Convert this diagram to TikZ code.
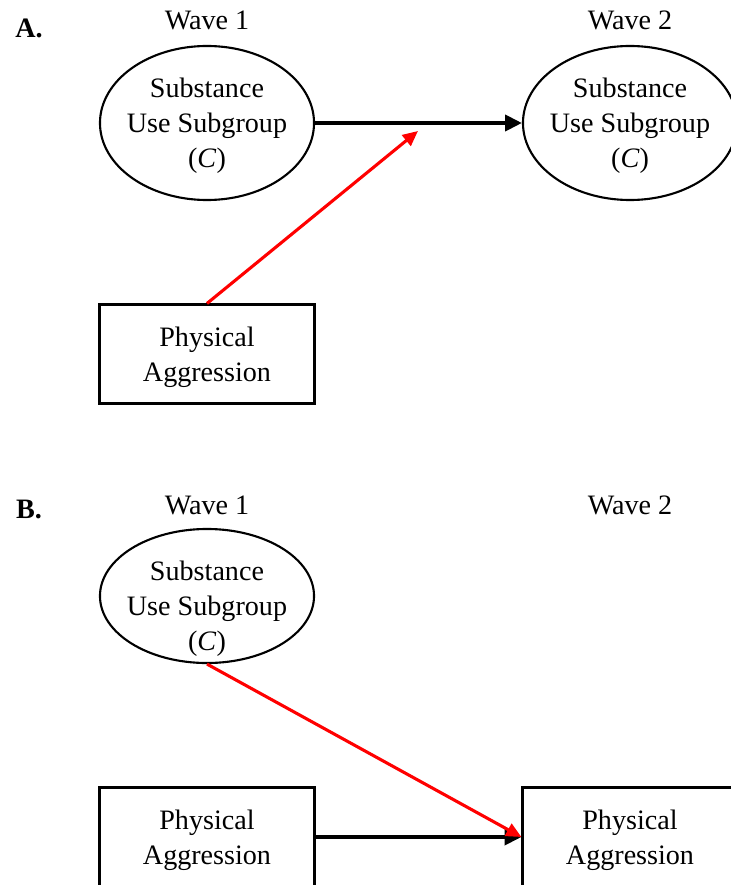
\documentclass[tikz,border=0pt]{standalone}
\usepackage{fontspec}
\setmainfont{Liberation Serif}
\usetikzlibrary{shapes.geometric,arrows.meta}
\tikzset{
  every node/.style={font=\fontsize{20}{24.8}\selectfont, align=center},
  subgroup/.style={draw, ellipse, line width=1.5pt, inner sep=0pt,
    minimum width=5.35cm, minimum height=3.85cm},
  aggbox/.style={draw, rectangle, line width=1.5pt, inner sep=0pt,
    minimum width=5.375cm, minimum height=2.475cm},
  pathblack/.style={line width=2.6pt, -{Triangle[length=0.42cm, width=0.4cm]}},
  pathred/.style={red, line width=2.2pt, -{Triangle[length=0.38cm, width=0.34cm]}},
}
\begin{document}
\begin{tikzpicture}[x=0.025cm, y=-0.025cm]
  \useasboundingbox (0,0) rectangle (730,885);
  % panel A
  \node[font=\fontsize{20}{24.8}\selectfont\bfseries] (labA) at (29,28) {A.};
  \node (waveA1) at (207,20) {Wave 1};
  \node (waveA2) at (630,20) {Wave 2};
  \node[subgroup] (suA1) at (207,123) {};
  \node[subgroup] (suA2) at (630,123) {};
  \node (suA1text) at (207,126) {Substance\\Use Subgroup\\(\textit{C})};
  \node (suA2text) at (630,126) {Substance\\Use Subgroup\\(\textit{C})};
  \node[aggbox] (paA1) at (207,354) {};
  \node (paA1text) at (207,357) {Physical\\Aggression};
  \coordinate (modA) at (418,131);
  \draw[pathblack] (suA1) -- (suA2);
  \draw[pathred] (paA1.north) -- (modA);
  % panel B
  \node[font=\fontsize{20}{24.8}\selectfont\bfseries] (labB) at (29,509) {B.};
  \node (waveB1) at (207,505) {Wave 1};
  \node (waveB2) at (630,505) {Wave 2};
  \node[subgroup, minimum height=3.35cm] (suB1) at (207,596) {};
  \node (suB1text) at (207,609) {Substance\\Use Subgroup\\(\textit{C})};
  \node[aggbox] (paB1) at (207,837) {};
  \node[aggbox] (paB2) at (630,837) {};
  \node (paB1text) at (207,840) {Physical\\Aggression};
  \node (paB2text) at (630,840) {Physical\\Aggression};
  \draw[pathblack] (paB1) -- (paB2);
  \draw[pathred] (suB1.south) -- (paB2.west);
\end{tikzpicture}
\end{document}
